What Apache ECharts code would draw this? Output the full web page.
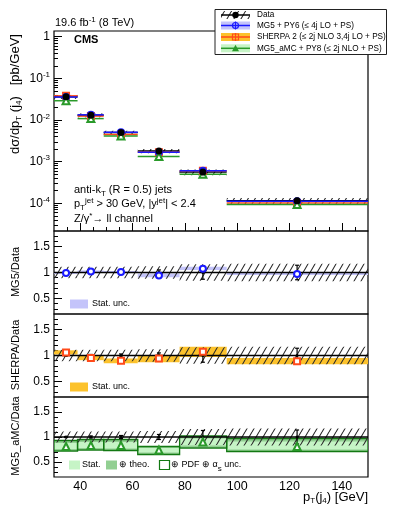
<!DOCTYPE html>
<html>
<head>
<meta charset="utf-8">
<script src="https://cdn.jsdelivr.net/npm/echarts@6/dist/echarts.min.js"></script>
<style>
  html, body { margin: 0; padding: 0; background: #fff; }
  #chart { width: 399px; height: 516px; }
</style>
</head>
<body>
<div id="chart"></div>
<script>
// bins and point positions (GeV)
const binEdges = [30, 39, 49, 62, 78, 96, 150];
const pointX = [34.6, 44.1, 55.6, 70.1, 86.9, 122.9];

// cross sections (pb/GeV)
const dataXsec = [3.6e-2, 1.3e-2, 5.0e-3, 1.8e-3, 5.6e-4, 1.15e-4];
const mg5Xsec = [3.56e-2, 1.33e-2, 5.05e-3, 1.69e-3, 6.0e-4, 1.12e-4];
const sherpaXsec = [3.8e-2, 1.24e-2, 4.5e-3, 1.69e-3, 6.0e-4, 1.02e-4];
const amcXsec = [2.9e-2, 1.08e-2, 4.15e-3, 1.33e-3, 5.0e-4, 9.3e-5];

// relative uncertainties of the data
const dataStatErr = [0.01, 0.02, 0.03, 0.05, 0.13, 0.14];
const dataTotUnc = [0.11, 0.11, 0.11, 0.12, 0.16, 0.17];

// ratios to data
const mg5Ratio = [0.99, 1.02, 1.01, 0.94, 1.07, 0.97];
const mg5StatLo = [0.97, 1.00, 0.99, 0.91, 1.05, 0.95];
const mg5StatHi = [1.01, 1.04, 1.03, 0.98, 1.11, 0.99];

const sherpaRatio = [1.06, 0.95, 0.90, 0.94, 1.07, 0.89];
const sherpaStatLo = [1.02, 0.91, 0.85, 0.87, 0.97, 0.83];
const sherpaStatHi = [1.10, 0.99, 0.94, 1.00, 1.17, 0.95];

const amcRatio = [0.81, 0.83, 0.83, 0.74, 0.90, 0.81];
const amcStatLo = [0.76, 0.78, 0.77, 0.69, 0.83, 0.75];
const amcStatHi = [0.88, 0.90, 0.90, 0.78, 0.97, 0.91];
const amcTheoLo = [0.73, 0.75, 0.74, 0.66, 0.79, 0.72];
const amcTheoHi = [0.92, 0.94, 0.94, 0.80, 1.01, 0.96];
const amcPdfLo = [0.72, 0.74, 0.73, 0.65, 0.78, 0.71];
const amcPdfHi = [0.93, 0.95, 0.95, 0.81, 1.02, 0.97];

const xLabels = [40, 60, 80, 100, 120, 140];
const logMajors = [1e-4, 1e-3, 1e-2, 1e-1, 1];
const logMinors = [];
[1e-5, 1e-4, 1e-3, 1e-2, 1e-1, 1].forEach(d => {
  for (let k = 2; k <= 9; k++) logMinors.push(d * k);
});
const ratioMajors = [0.5, 1, 1.5];
const ratioMinors = [0.3, 0.4, 0.6, 0.7, 0.8, 0.9, 1.1, 1.2, 1.3, 1.4, 1.6, 1.7];
const xMinors = [35, 45, 50, 55, 65, 70, 75, 85, 90, 95, 105, 110, 115, 125, 130, 135, 145];

const FONT = '"Liberation Sans", Arial, Helvetica, sans-serif';
const BLUE = '#1a1aff', BLUE_BAND = '#c4c4fa';
const RED = '#ff4a1a', ORANGE_BAND = '#fcc22c';
const GREEN = '#2a9a2a', GREEN_LIGHT = '#c6f4c6', GREEN_MID = '#92cf92', GREEN_DARK = '#127812';

function hatchCanvas() {
  const w = 7, h = 12;
  const c = document.createElement('canvas');
  c.width = w; c.height = h;
  const ctx = c.getContext('2d');
  ctx.strokeStyle = '#2a2a2a';
  ctx.lineWidth = 1.1;
  ctx.beginPath();
  for (let s = -w; s <= w; s += w) {
    ctx.moveTo(s, h);
    ctx.lineTo(s + w, 0);
  }
  ctx.stroke();
  return c;
}
const hatch = { image: hatchCanvas(), repeat: 'repeat' };

const bins = binEdges.slice(0, -1).map((e, i) => [e, binEdges[i + 1]]);

// [x0, x1, lo, hi]
function bandData(lo, hi) {
  return bins.map((b, i) => [b[0], b[1], lo[i], hi[i]]);
}
function rectRender(style) {
  return (params, api) => {
    const p0 = api.coord([api.value(0), api.value(3)]);
    const p1 = api.coord([api.value(1), api.value(2)]);
    return {
      type: 'rect',
      shape: { x: p0[0], y: p0[1], width: p1[0] - p0[0], height: p1[1] - p0[1] },
      style: style
    };
  };
}
function hlineRender(style) {
  return (params, api) => {
    const p0 = api.coord([api.value(0), api.value(2)]);
    const p1 = api.coord([api.value(1), api.value(2)]);
    return { type: 'line', shape: { x1: p0[0], y1: p0[1], x2: p1[0], y2: p1[1] }, style: style };
  };
}
function errRender(color, cap) {
  return (params, api) => {
    const a = api.coord([api.value(0), api.value(1)]);
    const b = api.coord([api.value(0), api.value(2)]);
    const st = { stroke: color, lineWidth: 1.2 };
    return {
      type: 'group',
      children: [
        { type: 'line', shape: { x1: a[0], y1: a[1], x2: b[0], y2: b[1] }, style: st },
        { type: 'line', shape: { x1: a[0] - cap, y1: a[1], x2: a[0] + cap, y2: a[1] }, style: st },
        { type: 'line', shape: { x1: b[0] - cap, y1: b[1], x2: b[0] + cap, y2: b[1] }, style: st }
      ]
    };
  };
}
function custom(idx, data, renderItem, z) {
  return { type: 'custom', xAxisIndex: idx, yAxisIndex: idx * 2, data: data, renderItem: renderItem, z: z, silent: true, clip: true };
}
function scatter(idx, ys, symbol, color, size, z) {
  return {
    type: 'scatter', xAxisIndex: idx, yAxisIndex: idx * 2,
    data: pointX.map((x, i) => [x, ys[i]]),
    symbol: symbol, symbolSize: size, z: z, silent: true,
    itemStyle: { color: color, borderWidth: 1.2, opacity: 1 }
  };
}

const grids = [
  { left: 54, top: 31, width: 314, height: 200 },
  { left: 54, top: 231, width: 314, height: 83 },
  { left: 54, top: 314, width: 314, height: 83 },
  { left: 54, top: 397, width: 314, height: 80 }
].map(g => Object.assign(g, { show: true, borderColor: '#000', borderWidth: 1.2, backgroundColor: 'transparent' }));

const xAxes = [0, 1, 2, 3].map(i => ({
  type: 'value', gridIndex: i, min: 30, max: 150,
  axisLine: { show: false }, splitLine: { show: false },
  axisTick: i === 0
    ? { show: true, inside: true, length: 4, customValues: xMinors, lineStyle: { color: '#000' } }
    : { show: false },
  axisLabel: i === 3
    ? { show: true, customValues: xLabels, margin: 3, fontSize: 12.5, color: '#000', fontFamily: FONT }
    : { show: false }
}));
// major x ticks on the top panel
xAxes.push({
  type: 'value', gridIndex: 0, min: 30, max: 150, position: 'bottom',
  axisLine: { show: false }, splitLine: { show: false }, axisLabel: { show: false },
  axisTick: { show: true, inside: true, length: 8, customValues: xLabels, lineStyle: { color: '#000' } }
});

const supSub = {
  sup: { fontSize: 8, verticalAlign: 'top', fontFamily: FONT, color: '#000', lineHeight: 15 },
  sub: { fontSize: 8, verticalAlign: 'bottom', fontFamily: FONT, color: '#000', lineHeight: 15 }
};

const yAxes = [];
// top panel: major + minor log axes
yAxes.push({
  type: 'log', gridIndex: 0, min: 2.16e-5, max: 1.37, position: 'left',
  axisLine: { show: false }, splitLine: { show: false },
  axisTick: { show: true, inside: true, length: 8, customValues: logMajors, lineStyle: { color: '#000' } },
  axisLabel: {
    customValues: logMajors, margin: 4, fontSize: 12, color: '#000', fontFamily: FONT,
    formatter: v => (Math.abs(v - 1) < 1e-9 ? '1' : '10{sup|' + Math.round(Math.log10(v)) + '}'),
    rich: supSub
  }
});
yAxes.push({
  type: 'log', gridIndex: 0, min: 2.16e-5, max: 1.37, position: 'left',
  axisLine: { show: false }, splitLine: { show: false }, axisLabel: { show: false },
  axisTick: { show: true, inside: true, length: 4, customValues: logMinors, lineStyle: { color: '#000' } }
});
[1, 2, 3].forEach(g => {
  yAxes.push({
    type: 'value', gridIndex: g, min: 0.2, max: 1.8, position: 'left',
    axisLine: { show: false }, splitLine: { show: false },
    axisTick: { show: true, inside: true, length: 8, customValues: ratioMajors, lineStyle: { color: '#000' } },
    axisLabel: { customValues: ratioMajors, margin: 4, fontSize: 12, color: '#000', fontFamily: FONT }
  });
  yAxes.push({
    type: 'value', gridIndex: g, min: 0.2, max: 1.8, position: 'left',
    axisLine: { show: false }, splitLine: { show: false }, axisLabel: { show: false },
    axisTick: { show: true, inside: true, length: 4, customValues: ratioMinors, lineStyle: { color: '#000' } }
  });
});

const series = [];

// ---- top panel ----
series.push(custom(0, bins.map((b, i) => [b[0], b[1], dataXsec[i] * (1 - dataTotUnc[i]), dataXsec[i] * (1 + dataTotUnc[i])]),
  rectRender({ fill: hatch }), 2));
series.push(custom(0, bins.map((b, i) => [b[0], b[1], dataXsec[i]]), hlineRender({ stroke: '#000', lineWidth: 1.5 }), 3));
series.push(custom(0, bins.map((b, i) => [b[0], b[1], sherpaXsec[i]]), hlineRender({ stroke: RED, lineWidth: 1.5 }), 3));
series.push(custom(0, bins.map((b, i) => [b[0], b[1], mg5Xsec[i]]), hlineRender({ stroke: BLUE, lineWidth: 1.5 }), 3));
series.push(custom(0, bins.map((b, i) => [b[0], b[1], amcXsec[i]]), hlineRender({ stroke: GREEN, lineWidth: 1.5 }), 3));
series.push(scatter(0, sherpaXsec, 'emptyRect', RED, 6, 4));
series.push(scatter(0, mg5Xsec, 'emptyCircle', BLUE, 6, 4));
series.push(scatter(0, amcXsec, 'emptyTriangle', GREEN, 7, 4));
series.push(custom(0, pointX.map((x, i) => [x, dataXsec[i] * (1 - dataStatErr[i]), dataXsec[i] * (1 + dataStatErr[i])]),
  errRender('#000', 2), 5));
series.push(scatter(0, dataXsec, 'circle', '#000', 7, 6));

// ---- ratio panels ----
function ratioPanel(idx, drawModel) {
  drawModel();
  series.push(custom(idx, bins.map((b, i) => [b[0], b[1], 1 - dataTotUnc[i], 1 + dataTotUnc[i]]), rectRender({ fill: hatch }), 2));
  series.push(custom(idx, [[30, 150, 1]], hlineRender({ stroke: '#000', lineWidth: 1.5 }), 3));
  series.push(custom(idx, pointX.map((x, i) => [x, 1 - dataStatErr[i], 1 + dataStatErr[i]]), errRender('#000', 2), 5));
  series.push(scatter(idx, pointX.map(() => 1), 'circle', '#000', 3, 6));
}
ratioPanel(1, () => {
  series.push(custom(1, bandData(mg5StatLo, mg5StatHi), rectRender({ fill: BLUE_BAND }), 1));
  series.push(scatter(1, mg5Ratio, 'emptyCircle', BLUE, 6, 7));
});
ratioPanel(2, () => {
  series.push(custom(2, bandData(sherpaStatLo, sherpaStatHi), rectRender({ fill: ORANGE_BAND }), 1));
  series.push(scatter(2, sherpaRatio, 'emptyRect', RED, 6, 7));
});
ratioPanel(3, () => {
  series.push(custom(3, bandData(amcTheoLo, amcTheoHi), rectRender({ fill: GREEN_MID }), 1));
  series.push(custom(3, bandData(amcStatLo, amcStatHi), rectRender({ fill: GREEN_LIGHT }), 1));
  series.push(custom(3, bandData(amcPdfLo, amcPdfHi), rectRender({ fill: 'none', stroke: GREEN_DARK, lineWidth: 1.3 }), 1));
  series.push(scatter(3, amcRatio, 'emptyTriangle', GREEN, 7, 7));
});

// ---- text and legends ----
function txt(x, y, text, extra) {
  return Object.assign({
    type: 'text', x: x, y: y, z: 20,
    style: Object.assign({ text: text, fontSize: 11, fontFamily: FONT, fill: '#000', verticalAlign: 'middle', align: 'left', rich: supSub }, (extra && extra.style) || {})
  }, extra && extra.rotation ? { rotation: extra.rotation } : {});
}
const rot = Math.PI / 2;
const graphics = [
  txt(55, 23, '19.6 fb{sup|-1} (8 TeV)'),
  txt(74, 40, 'CMS', { style: { fontWeight: 'bold', fontSize: 11 } }),
  txt(74, 190, 'anti-k{sub|T} (R = 0.5) jets'),
  txt(74, 204, 'p{sub|T}{sup|jet} > 30 GeV, |y{sup|jet}| < 2.4'),
  txt(74, 219, 'Z/γ{sup|*}→ ll channel'),
  txt(15, 94, 'dσ/dp{sub|T} (j{sub|4})   [pb/GeV]', { rotation: rot, style: { align: 'center', fontSize: 13 } }),
  txt(16, 272, 'MG5/Data', { rotation: rot, style: { align: 'center', fontSize: 11 } }),
  txt(16, 355, 'SHERPA/Data', { rotation: rot, style: { align: 'center', fontSize: 11 } }),
  txt(16, 436, 'MG5_aMC/Data', { rotation: rot, style: { align: 'center', fontSize: 11 } }),
  txt(368, 497, 'p{sub|T}(j{sub|4}) [GeV]', { style: { align: 'right', fontSize: 13 } })
];

// top legend
const legendRows = [15, 25.5, 37, 48.3];
graphics.push({ type: 'rect', z: 15, shape: { x: 215, y: 9.5, width: 171.5, height: 45 }, style: { fill: '#fff', stroke: '#222', lineWidth: 1 } });
const lx0 = 221, lx1 = 250, lxc = 235.5;
function legendEntry(y, bandFill, lineColor, marker, label) {
  graphics.push({ type: 'rect', z: 16, shape: { x: lx0, y: y - 4, width: lx1 - lx0, height: 8 }, style: { fill: bandFill } });
  graphics.push({ type: 'line', z: 17, shape: { x1: lx0, y1: y, x2: lx1, y2: y }, style: { stroke: lineColor, lineWidth: 1.5 } });
  graphics.push(marker);
  graphics.push(txt(257, y, label, { style: { fontSize: 8.2 } }));
}
legendEntry(legendRows[0], hatch, '#000', { type: 'circle', z: 18, shape: { cx: lxc, cy: legendRows[0], r: 3.2 }, style: { fill: '#000' } }, 'Data');
legendEntry(legendRows[1], BLUE_BAND, BLUE, { type: 'group', z: 18, children: [
  { type: 'circle', z: 18, shape: { cx: lxc, cy: legendRows[1], r: 3 }, style: { fill: 'none', stroke: BLUE, lineWidth: 1.2 } },
  { type: 'line', z: 18, shape: { x1: lxc, y1: legendRows[1] - 4, x2: lxc, y2: legendRows[1] + 4 }, style: { stroke: BLUE, lineWidth: 1.2 } }
] }, 'MG5 + PY6 (≤ 4j LO + PS)');
legendEntry(legendRows[2], ORANGE_BAND, RED, { type: 'group', z: 18, children: [
  { type: 'rect', z: 18, shape: { x: lxc - 3, y: legendRows[2] - 3, width: 6, height: 6 }, style: { fill: 'none', stroke: RED, lineWidth: 1.2 } },
  { type: 'line', z: 18, shape: { x1: lxc, y1: legendRows[2] - 4, x2: lxc, y2: legendRows[2] + 4 }, style: { stroke: RED, lineWidth: 1.2 } }
] }, 'SHERPA 2 (≤ 2j NLO 3,4j LO + PS)');
legendEntry(legendRows[3], GREEN_LIGHT, GREEN, { type: 'polygon', z: 18, shape: { points: [[lxc - 3.5, legendRows[3] + 3], [lxc + 3.5, legendRows[3] + 3], [lxc, legendRows[3] - 3.5]] }, style: { fill: GREEN } }, 'MG5_aMC + PY8 (≤ 2j NLO + PS)');

// ratio legends
graphics.push({ type: 'rect', z: 15, shape: { x: 70, y: 299.5, width: 18, height: 9 }, style: { fill: BLUE_BAND } });
graphics.push(txt(92, 304, 'Stat. unc.', { style: { fontSize: 9 } }));
graphics.push({ type: 'rect', z: 15, shape: { x: 70, y: 382.5, width: 18, height: 9 }, style: { fill: ORANGE_BAND } });
graphics.push(txt(92, 387, 'Stat. unc.', { style: { fontSize: 9 } }));
graphics.push({ type: 'rect', z: 15, shape: { x: 69, y: 460.5, width: 11, height: 9 }, style: { fill: GREEN_LIGHT } });
graphics.push(txt(82, 465, 'Stat.', { style: { fontSize: 9 } }));
graphics.push({ type: 'rect', z: 15, shape: { x: 106, y: 460.5, width: 11, height: 9 }, style: { fill: GREEN_MID } });
graphics.push(txt(119, 465, '⊕ theo.', { style: { fontSize: 9 } }));
graphics.push({ type: 'rect', z: 15, shape: { x: 159.5, y: 460.5, width: 10, height: 9 }, style: { fill: '#fff', stroke: GREEN_DARK, lineWidth: 1.2 } });
graphics.push(txt(171, 465, '⊕ PDF ⊕ α{sub|s} unc.', { style: { fontSize: 9 } }));

const chart = echarts.init(document.getElementById('chart'));
chart.setOption({
  animation: false,
  backgroundColor: '#fff',
  textStyle: { fontFamily: FONT },
  grid: grids,
  xAxis: xAxes,
  yAxis: yAxes,
  series: series,
  graphic: { elements: graphics }
});
</script>
</body>
</html>
